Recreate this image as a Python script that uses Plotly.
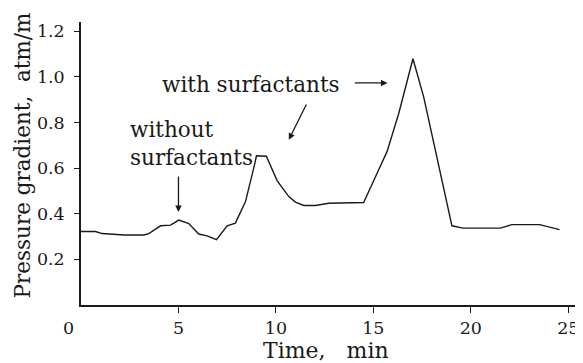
import plotly.graph_objects as go

time_min = [0.0, 0.74, 1.09, 1.86, 2.2, 3.22, 3.48, 4.08, 4.59, 5.02, 5.53, 6.04, 6.47, 6.95,
            7.5, 7.92, 8.44, 8.9, 9.0, 9.51, 10.06, 10.66, 11.0, 11.43, 12.03, 12.71, 14.5,
            15.19, 15.7, 16.3, 17.03, 17.58, 19.03, 19.6, 21.51, 22.11, 23.53, 24.55]
pressure_gradient = [0.322, 0.322, 0.313, 0.31, 0.307, 0.307, 0.313, 0.347, 0.35, 0.372, 0.357,
                     0.311, 0.303, 0.286, 0.347, 0.359, 0.453, 0.614, 0.654, 0.652, 0.545,
                     0.475, 0.451, 0.436, 0.436, 0.446, 0.449, 0.577, 0.672, 0.839, 1.079,
                     0.912, 0.347, 0.337, 0.337, 0.352, 0.352, 0.33]

x_ticks = [5, 10, 15, 20, 25]
y_ticks = [0.2, 0.4, 0.6, 0.8, 1.0, 1.2]
y_tick_labels = ["0.2", "0.4", "0.6", "0.8", "1.0", "1.2"]

FONT = "DejaVu Serif"
INK = "#1a1a1a"
NB = "\u00a0"

fig = go.Figure()
fig.add_trace(go.Scatter(x=time_min, y=pressure_gradient, mode="lines",
                         line=dict(color=INK, width=1.4), showlegend=False,
                         hoverinfo="skip"))

# page body has an 8px margin, so the figure is sized/offset to land the plot area correctly
fig.update_layout(
    width=575, height=355,
    margin=dict(l=72.5, r=3, t=14, b=57.5, autoexpand=False),
    paper_bgcolor="white", plot_bgcolor="white",
    font=dict(family=FONT, size=17, color=INK),
    xaxis=dict(range=[0, 25.6], tickvals=x_ticks, ticktext=[str(v) for v in x_ticks],
               showgrid=False, zeroline=False, showline=True, linecolor=INK, linewidth=1.5,
               ticks="outside", ticklen=6, tickcolor=INK, tickwidth=1.2,
               tickfont=dict(size=17.5), automargin=False),
    yaxis=dict(range=[0, 1.24], tickvals=y_ticks, ticktext=y_tick_labels,
               showgrid=False, zeroline=False, showline=True, linecolor=INK, linewidth=1.5,
               ticks="outside", ticklen=5, tickcolor=INK, tickwidth=1.2,
               tickfont=dict(size=17.5), ticklabelstandoff=6, automargin=False),
)

# axis titles
fig.add_annotation(x=0.5, y=0, xref="paper", yref="paper", xanchor="center", yanchor="middle",
                   text="Time," + NB * 3 + "min", showarrow=False,
                   xshift=-5, yshift=-45.5, font=dict(size=22))
fig.add_annotation(x=0, y=0.5, xref="paper", yref="paper", xanchor="center", yanchor="middle",
                   text="Pressure gradient," + NB * 2 + "atm/m", showarrow=False,
                   textangle=-90, xshift=-59.5, yshift=7.5, font=dict(size=21.5))

# "0" label placed left of the y axis, as in the reference
fig.add_annotation(x=0, y=0, xref="x", yref="y", text="0", showarrow=False,
                   xshift=-13, yshift=-23, font=dict(size=17.5))

fig.add_annotation(x=8.7, y=0.967, xref="x", yref="y", text="with surfactants",
                   showarrow=False, font=dict(size=21.5))
fig.add_annotation(x=15.72, y=0.973, ax=13.97, ay=0.973, xref="x", yref="y", axref="x", ayref="y",
                   text="", showarrow=True, arrowhead=2, arrowsize=1.0, arrowwidth=1.3,
                   arrowcolor=INK)
fig.add_annotation(x=10.66, y=0.724, ax=11.6, ay=0.885, xref="x", yref="y", axref="x", ayref="y",
                   text="", showarrow=True, arrowhead=2, arrowsize=1.0, arrowwidth=1.3,
                   arrowcolor=INK)
fig.add_annotation(x=2.4, y=0.706, xref="x", yref="y", text="without<br>surfactants",
                   showarrow=False, xanchor="left", align="left", font=dict(size=21.5))
fig.add_annotation(x=5.0, y=0.408, ax=5.0, ay=0.57, xref="x", yref="y", axref="x", ayref="y",
                   text="", showarrow=True, arrowhead=2, arrowsize=1.0, arrowwidth=1.3,
                   arrowcolor=INK)

fig.write_html("out.html")
